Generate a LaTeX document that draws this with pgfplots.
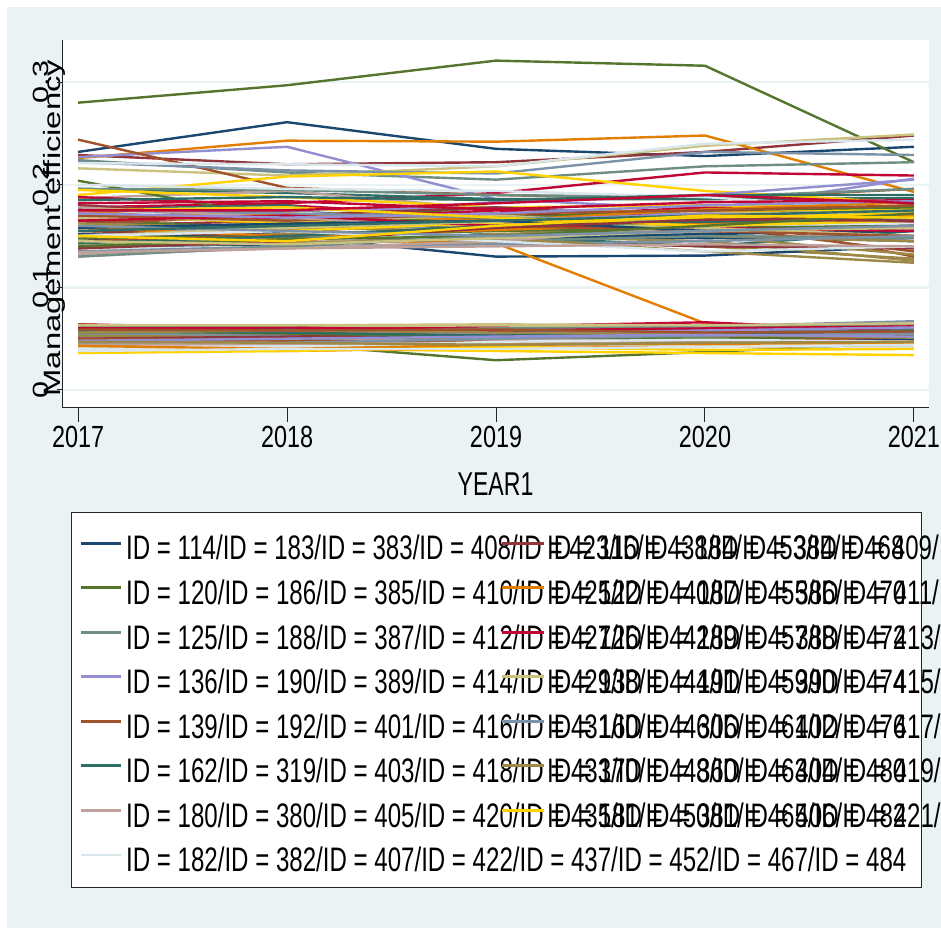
\documentclass[border=0pt]{standalone}
\usepackage{fontspec}
\usepackage{graphicx}
\usepackage{pgfplots}
\pgfplotsset{compat=1.18}
\setmainfont{Liberation Sans}
\newfontfamily\legfont[FakeStretch=0.708]{Liberation Sans}
\newfontfamily\tickfont[FakeStretch=0.765]{Liberation Sans}
\newfontfamily\titfont[FakeStretch=0.70]{Liberation Sans}
\definecolor{bg}{HTML}{EAF2F3}
\definecolor{gridc}{HTML}{EAF2F3}
\definecolor{p1}{HTML}{1A476F}
\definecolor{p2}{HTML}{90353B}
\definecolor{p3}{HTML}{55752F}
\definecolor{p4}{HTML}{E37E00}
\definecolor{p5}{HTML}{6E8E84}
\definecolor{p6}{HTML}{C10534}
\definecolor{p7}{HTML}{938DD2}
\definecolor{p8}{HTML}{CAC27E}
\definecolor{p9}{HTML}{A0522D}
\definecolor{p10}{HTML}{7B92A8}
\definecolor{p11}{HTML}{2D6D66}
\definecolor{p12}{HTML}{9C8847}
\definecolor{p13}{HTML}{BFA19C}
\definecolor{p14}{HTML}{FFD200}
\definecolor{p15}{HTML}{D9E6EB}
\newcommand\sq[1]{\scalebox{1}[0.72]{#1}}
\pgfplotsset{ser/.style={line width=2.4pt}}
\begin{document}
\begin{tikzpicture}
\path[use as bounding box] (0pt,0pt) rectangle (941pt,928pt);
\fill[white] (0pt,0pt) rectangle (941pt,928pt);
\fill[bg] (7pt,0pt) rectangle (941pt,921pt);
\filldraw[fill=white, draw=black!85, line width=1pt] (71pt,41pt) rectangle (921pt,415pt);
\begin{axis}[
  at={(62pt,520pt)}, anchor=south west,
  width=867pt, height=368pt, scale only axis,
  xmin=2016.923, xmax=2021.072, ymin=-0.01754, ymax=0.3411,
  axis x line*=bottom, axis y line*=left,
  axis line style={black!85, line width=1pt},
  axis background/.style={fill=white},
  xtick={2017,2018,2019,2020,2021},
  xticklabels={2017,2018,2019,2020,2021},
  ytick={0,0.1,0.2,0.3},
  yticklabels={{\sq{0}},{\sq{0.1}},{\sq{0.2}},{\sq{0.3}}},
  tick align=outside, major tick length=14pt,
  xtick style={black!85, line width=1pt},
  ytick style={draw=none},
  xticklabel style={font=\tickfont\fontsize{30.6}{36}\selectfont, anchor=base, yshift=-26pt},
  yticklabel style={font=\fontsize{30.6}{36}\selectfont, rotate=90, anchor=base},
  ymajorgrids, major grid style={gridc, line width=2.5pt},
  xlabel={\titfont\fontsize{33}{38}\selectfont YEAR1},
  xlabel style={at={(axis description cs:0.5,-0.2391)}, anchor=base},
  ylabel={\sq{\fontsize{32.8}{38}\selectfont Management efficiency}},
  ylabel style={at={(axis description cs:-0.0023,0.489)}, anchor=base},
  clip=false,
]
% group 1
\addplot[p1,ser] coordinates {(2017,0.232)(2018,0.261)(2019,0.235)(2020,0.228)(2021,0.237)};
\addplot[p2,ser] coordinates {(2017,0.229)(2018,0.220)(2019,0.222)(2020,0.232)(2021,0.248)};
\addplot[p3,ser] coordinates {(2017,0.280)(2018,0.297)(2019,0.321)(2020,0.316)(2021,0.222)};
\addplot[p4,ser] coordinates {(2017,0.226)(2018,0.243)(2019,0.242)(2020,0.248)(2021,0.193)};
\addplot[p5,ser] coordinates {(2017,0.224)(2018,0.212)(2019,0.205)(2020,0.218)(2021,0.222)};
\addplot[p6,ser] coordinates {(2017,0.178)(2018,0.182)(2019,0.192)(2020,0.212)(2021,0.209)};
\addplot[p7,ser] coordinates {(2017,0.227)(2018,0.237)(2019,0.186)(2020,0.176)(2021,0.206)};
\addplot[p8,ser] coordinates {(2017,0.216)(2018,0.209)(2019,0.218)(2020,0.238)(2021,0.249)};
\addplot[p9,ser] coordinates {(2017,0.244)(2018,0.197)(2019,0.190)(2020,0.186)(2021,0.196)};
\addplot[p10,ser] coordinates {(2017,0.222)(2018,0.214)(2019,0.211)(2020,0.232)(2021,0.229)};
\addplot[p11,ser] coordinates {(2017,0.196)(2018,0.192)(2019,0.186)(2020,0.186)(2021,0.187)};
\addplot[p12,ser] coordinates {(2017,0.150)(2018,0.156)(2019,0.148)(2020,0.140)(2021,0.128)};
\addplot[p13,ser] coordinates {(2017,0.187)(2018,0.194)(2019,0.176)(2020,0.170)(2021,0.165)};
\addplot[p14,ser] coordinates {(2017,0.190)(2018,0.208)(2019,0.213)(2020,0.194)(2021,0.182)};
\addplot[p15,ser] coordinates {(2017,0.221)(2018,0.220)(2019,0.218)(2020,0.240)(2021,0.244)};
% group 2
\addplot[p1,ser] coordinates {(2017,0.152)(2018,0.150)(2019,0.130)(2020,0.131)(2021,0.140)};
\addplot[p2,ser] coordinates {(2017,0.160)(2018,0.165)(2019,0.170)(2020,0.175)(2021,0.160)};
\addplot[p3,ser] coordinates {(2017,0.204)(2018,0.166)(2019,0.178)(2020,0.170)(2021,0.180)};
\addplot[p4,ser] coordinates {(2017,0.150)(2018,0.147)(2019,0.143)(2020,0.065)(2021,0.058)};
\addplot[p5,ser] coordinates {(2017,0.196)(2018,0.195)(2019,0.190)(2020,0.188)(2021,0.196)};
\addplot[p6,ser] coordinates {(2017,0.188)(2018,0.180)(2019,0.168)(2020,0.178)(2021,0.172)};
\addplot[p7,ser] coordinates {(2017,0.180)(2018,0.170)(2019,0.183)(2020,0.190)(2021,0.205)};
\addplot[p8,ser] coordinates {(2017,0.142)(2018,0.146)(2019,0.160)(2020,0.168)(2021,0.170)};
\addplot[p9,ser] coordinates {(2017,0.150)(2018,0.160)(2019,0.162)(2020,0.170)(2021,0.130)};
\addplot[p10,ser] coordinates {(2017,0.140)(2018,0.145)(2019,0.150)(2020,0.158)(2021,0.170)};
\addplot[p11,ser] coordinates {(2017,0.165)(2018,0.168)(2019,0.172)(2020,0.148)(2021,0.150)};
\addplot[p12,ser] coordinates {(2017,0.148)(2018,0.152)(2019,0.150)(2020,0.145)(2021,0.126)};
\addplot[p13,ser] coordinates {(2017,0.138)(2018,0.145)(2019,0.150)(2020,0.150)(2021,0.150)};
\addplot[p14,ser] coordinates {(2017,0.195)(2018,0.188)(2019,0.178)(2020,0.180)(2021,0.178)};
\addplot[p15,ser] coordinates {(2017,0.200)(2018,0.196)(2019,0.194)(2020,0.188)(2021,0.175)};
% group 3
\addplot[p1,ser] coordinates {(2017,0.055)(2018,0.053)(2019,0.050)(2020,0.052)(2021,0.054)};
\addplot[p2,ser] coordinates {(2017,0.058)(2018,0.056)(2019,0.054)(2020,0.058)(2021,0.055)};
\addplot[p3,ser] coordinates {(2017,0.052)(2018,0.045)(2019,0.029)(2020,0.037)(2021,0.046)};
\addplot[p4,ser] coordinates {(2017,0.045)(2018,0.044)(2019,0.046)(2020,0.047)(2021,0.050)};
\addplot[p5,ser] coordinates {(2017,0.062)(2018,0.060)(2019,0.058)(2020,0.056)(2021,0.060)};
\addplot[p6,ser] coordinates {(2017,0.064)(2018,0.060)(2019,0.062)(2020,0.066)(2021,0.057)};
\addplot[p7,ser] coordinates {(2017,0.052)(2018,0.052)(2019,0.057)(2020,0.056)(2021,0.058)};
\addplot[p8,ser] coordinates {(2017,0.060)(2018,0.062)(2019,0.063)(2020,0.060)(2021,0.062)};
\addplot[p9,ser] coordinates {(2017,0.064)(2018,0.057)(2019,0.055)(2020,0.052)(2021,0.053)};
\addplot[p10,ser] coordinates {(2017,0.054)(2018,0.054)(2019,0.058)(2020,0.062)(2021,0.067)};
\addplot[p11,ser] coordinates {(2017,0.061)(2018,0.061)(2019,0.056)(2020,0.058)(2021,0.055)};
\addplot[p12,ser] coordinates {(2017,0.053)(2018,0.051)(2019,0.050)(2020,0.048)(2021,0.049)};
\addplot[p13,ser] coordinates {(2017,0.047)(2018,0.049)(2019,0.048)(2020,0.051)(2021,0.050)};
\addplot[p14,ser] coordinates {(2017,0.038)(2018,0.040)(2019,0.038)(2020,0.036)(2021,0.034)};
\addplot[p15,ser] coordinates {(2017,0.042)(2018,0.043)(2019,0.044)(2020,0.043)(2021,0.042)};
% group 4
\addplot[p1,ser] coordinates {(2017,0.160)(2018,0.150)(2019,0.158)(2020,0.150)(2021,0.145)};
\addplot[p2,ser] coordinates {(2017,0.145)(2018,0.155)(2019,0.162)(2020,0.160)(2021,0.150)};
\addplot[p3,ser] coordinates {(2017,0.165)(2018,0.158)(2019,0.160)(2020,0.165)(2021,0.168)};
\addplot[p4,ser] coordinates {(2017,0.175)(2018,0.160)(2019,0.168)(2020,0.172)(2021,0.180)};
\addplot[p5,ser] coordinates {(2017,0.168)(2018,0.175)(2019,0.170)(2020,0.160)(2021,0.162)};
\addplot[p6,ser] coordinates {(2017,0.172)(2018,0.166)(2019,0.175)(2020,0.168)(2021,0.164)};
\addplot[p7,ser] coordinates {(2017,0.160)(2018,0.175)(2019,0.178)(2020,0.170)(2021,0.176)};
\addplot[p8,ser] coordinates {(2017,0.155)(2018,0.150)(2019,0.160)(2020,0.172)(2021,0.174)};
\addplot[p9,ser] coordinates {(2017,0.162)(2018,0.170)(2019,0.168)(2020,0.160)(2021,0.135)};
\addplot[p10,ser] coordinates {(2017,0.150)(2018,0.165)(2019,0.155)(2020,0.162)(2021,0.158)};
\addplot[p11,ser] coordinates {(2017,0.176)(2018,0.180)(2019,0.150)(2020,0.140)(2021,0.155)};
\addplot[p12,ser] coordinates {(2017,0.145)(2018,0.145)(2019,0.152)(2020,0.150)(2021,0.132)};
\addplot[p13,ser] coordinates {(2017,0.130)(2018,0.140)(2019,0.160)(2020,0.168)(2021,0.172)};
\addplot[p14,ser] coordinates {(2017,0.170)(2018,0.163)(2019,0.172)(2020,0.175)(2021,0.176)};
\addplot[p15,ser] coordinates {(2017,0.175)(2018,0.178)(2019,0.160)(2020,0.152)(2021,0.168)};
% group 5
\addplot[p1,ser] coordinates {(2017,0.145)(2018,0.155)(2019,0.150)(2020,0.148)(2021,0.150)};
\addplot[p2,ser] coordinates {(2017,0.180)(2018,0.170)(2019,0.178)(2020,0.166)(2021,0.170)};
\addplot[p3,ser] coordinates {(2017,0.158)(2018,0.162)(2019,0.168)(2020,0.175)(2021,0.178)};
\addplot[p4,ser] coordinates {(2017,0.168)(2018,0.172)(2019,0.165)(2020,0.176)(2021,0.183)};
\addplot[p5,ser] coordinates {(2017,0.150)(2018,0.158)(2019,0.165)(2020,0.160)(2021,0.155)};
\addplot[p6,ser] coordinates {(2017,0.182)(2018,0.184)(2019,0.176)(2020,0.183)(2021,0.185)};
\addplot[p7,ser] coordinates {(2017,0.150)(2018,0.160)(2019,0.165)(2020,0.172)(2021,0.168)};
\addplot[p8,ser] coordinates {(2017,0.168)(2018,0.165)(2019,0.170)(2020,0.160)(2021,0.165)};
\addplot[p9,ser] coordinates {(2017,0.170)(2018,0.165)(2019,0.172)(2020,0.175)(2021,0.180)};
\addplot[p10,ser] coordinates {(2017,0.175)(2018,0.172)(2019,0.168)(2020,0.165)(2021,0.145)};
\addplot[p11,ser] coordinates {(2017,0.185)(2018,0.188)(2019,0.185)(2020,0.190)(2021,0.190)};
\addplot[p12,ser] coordinates {(2017,0.162)(2018,0.158)(2019,0.155)(2020,0.150)(2021,0.145)};
\addplot[p13,ser] coordinates {(2017,0.178)(2018,0.168)(2019,0.158)(2020,0.154)(2021,0.158)};
\addplot[p14,ser] coordinates {(2017,0.160)(2018,0.155)(2019,0.163)(2020,0.168)(2021,0.172)};
\addplot[p15,ser] coordinates {(2017,0.135)(2018,0.145)(2019,0.155)(2020,0.160)(2021,0.162)};
% group 6
\addplot[p1,ser] coordinates {(2017,0.048)(2018,0.050)(2019,0.053)(2020,0.049)(2021,0.050)};
\addplot[p2,ser] coordinates {(2017,0.050)(2018,0.052)(2019,0.055)(2020,0.054)(2021,0.056)};
\addplot[p3,ser] coordinates {(2017,0.057)(2018,0.055)(2019,0.052)(2020,0.050)(2021,0.052)};
\addplot[p4,ser] coordinates {(2017,0.040)(2018,0.038)(2019,0.041)(2020,0.042)(2021,0.044)};
\addplot[p5,ser] coordinates {(2017,0.055)(2018,0.057)(2019,0.060)(2020,0.061)(2021,0.064)};
\addplot[p6,ser] coordinates {(2017,0.060)(2018,0.061)(2019,0.058)(2020,0.060)(2021,0.062)};
\addplot[p7,ser] coordinates {(2017,0.057)(2018,0.058)(2019,0.055)(2020,0.058)(2021,0.061)};
\addplot[p8,ser] coordinates {(2017,0.063)(2018,0.063)(2019,0.064)(2020,0.063)(2021,0.065)};
\addplot[p9,ser] coordinates {(2017,0.050)(2018,0.048)(2019,0.047)(2020,0.046)(2021,0.052)};
\addplot[p10,ser] coordinates {(2017,0.045)(2018,0.046)(2019,0.050)(2020,0.053)(2021,0.055)};
\addplot[p11,ser] coordinates {(2017,0.058)(2018,0.056)(2019,0.053)(2020,0.055)(2021,0.058)};
\addplot[p12,ser] coordinates {(2017,0.056)(2018,0.058)(2019,0.056)(2020,0.054)(2021,0.051)};
\addplot[p13,ser] coordinates {(2017,0.044)(2018,0.045)(2019,0.046)(2020,0.047)(2021,0.045)};
\addplot[p14,ser] coordinates {(2017,0.036)(2018,0.038)(2019,0.042)(2020,0.039)(2021,0.040)};
\addplot[p15,ser] coordinates {(2017,0.040)(2018,0.041)(2019,0.047)(2020,0.049)(2021,0.047)};
% group 7
\addplot[p1,ser] coordinates {(2017,0.140)(2018,0.142)(2019,0.148)(2020,0.152)(2021,0.155)};
\addplot[p2,ser] coordinates {(2017,0.155)(2018,0.150)(2019,0.145)(2020,0.140)(2021,0.138)};
\addplot[p3,ser] coordinates {(2017,0.148)(2018,0.150)(2019,0.155)(2020,0.158)(2021,0.160)};
\addplot[p4,ser] coordinates {(2017,0.158)(2018,0.150)(2019,0.156)(2020,0.162)(2021,0.170)};
\addplot[p5,ser] coordinates {(2017,0.138)(2018,0.150)(2019,0.145)(2020,0.150)(2021,0.148)};
\addplot[p6,ser] coordinates {(2017,0.165)(2018,0.170)(2019,0.160)(2020,0.158)(2021,0.155)};
\addplot[p7,ser] coordinates {(2017,0.172)(2018,0.168)(2019,0.172)(2020,0.180)(2021,0.184)};
\addplot[p8,ser] coordinates {(2017,0.150)(2018,0.158)(2019,0.164)(2020,0.158)(2021,0.150)};
\addplot[p9,ser] coordinates {(2017,0.145)(2018,0.150)(2019,0.160)(2020,0.155)(2021,0.150)};
\addplot[p10,ser] coordinates {(2017,0.135)(2018,0.140)(2019,0.142)(2020,0.145)(2021,0.150)};
\addplot[p11,ser] coordinates {(2017,0.143)(2018,0.150)(2019,0.160)(2020,0.164)(2021,0.166)};
\addplot[p12,ser] coordinates {(2017,0.140)(2018,0.143)(2019,0.148)(2020,0.135)(2021,0.124)};
\addplot[p13,ser] coordinates {(2017,0.132)(2018,0.138)(2019,0.145)(2020,0.160)(2021,0.165)};
\addplot[p14,ser] coordinates {(2017,0.175)(2018,0.178)(2019,0.168)(2020,0.160)(2021,0.165)};
\addplot[p15,ser] coordinates {(2017,0.150)(2018,0.155)(2019,0.145)(2020,0.135)(2021,0.140)};
% group 8
\addplot[p1,ser] coordinates {(2017,0.158)(2018,0.162)(2019,0.165)(2020,0.155)(2021,0.160)};
\addplot[p2,ser] coordinates {(2017,0.138)(2018,0.145)(2019,0.158)(2020,0.166)(2021,0.165)};
\addplot[p3,ser] coordinates {(2017,0.140)(2018,0.147)(2019,0.150)(2020,0.160)(2021,0.172)};
\addplot[p4,ser] coordinates {(2017,0.043)(2018,0.040)(2019,0.044)(2020,0.045)(2021,0.046)};
\addplot[p5,ser] coordinates {(2017,0.130)(2018,0.140)(2019,0.150)(2020,0.155)(2021,0.160)};
\addplot[p6,ser] coordinates {(2017,0.175)(2018,0.175)(2019,0.182)(2020,0.190)(2021,0.182)};
\addplot[p7,ser] coordinates {(2017,0.048)(2018,0.050)(2019,0.052)(2020,0.054)(2021,0.052)};
\addplot[p8,ser] coordinates {(2017,0.145)(2018,0.142)(2019,0.148)(2020,0.155)(2021,0.158)};
\addplot[p9,ser] coordinates {(2017,0.059)(2018,0.058)(2019,0.059)(2020,0.056)(2021,0.057)};
\addplot[p10,ser] coordinates {(2017,0.160)(2018,0.155)(2019,0.150)(2020,0.155)(2021,0.160)};
\addplot[p11,ser] coordinates {(2017,0.155)(2018,0.160)(2019,0.165)(2020,0.170)(2021,0.175)};
\addplot[p12,ser] coordinates {(2017,0.047)(2018,0.046)(2019,0.044)(2020,0.046)(2021,0.047)};
\addplot[p13,ser] coordinates {(2017,0.134)(2018,0.138)(2019,0.140)(2020,0.142)(2021,0.140)};
\addplot[p14,ser] coordinates {(2017,0.150)(2018,0.145)(2019,0.160)(2020,0.170)(2021,0.168)};
\addplot[p15,ser] coordinates {(2017,0.038)(2018,0.040)(2019,0.040)(2020,0.042)(2021,0.044)};
\end{axis}
% y tick marks
\begin{scope}[black!85, line width=1pt]
\draw (57pt,538pt) -- (62pt,538pt);
\draw (57pt,640.6pt) -- (62pt,640.6pt);
\draw (57pt,743.2pt) -- (62pt,743.2pt);
\draw (57pt,845.8pt) -- (62pt,845.8pt);
\end{scope}
% legend
\begin{scope}[line width=2.8pt]
\draw[p1]  (81pt,384.7pt) -- (121pt,384.7pt);
\draw[p3]  (81pt,340.2pt) -- (121pt,340.2pt);
\draw[p5]  (81pt,295.6pt) -- (121pt,295.6pt);
\draw[p7]  (81pt,251.1pt) -- (121pt,251.1pt);
\draw[p9]  (81pt,206.6pt) -- (121pt,206.6pt);
\draw[p11] (81pt,162.1pt) -- (121pt,162.1pt);
\draw[p13] (81pt,117.5pt) -- (121pt,117.5pt);
\draw[p15] (81pt,73.0pt) -- (121pt,73.0pt);
\end{scope}
\begin{scope}[every node/.style={anchor=base west, inner sep=0pt, font=\legfont\fontsize{34}{40}\selectfont}]
\node at (126pt,368.00pt) {ID = 114/ID = 183/ID = 383/ID = 408/ID = 423/ID = 438/ID = 453/ID = 468};
\node at (126pt,323.47pt) {ID = 120/ID = 186/ID = 385/ID = 410/ID = 425/ID = 440/ID = 455/ID = 470};
\node at (126pt,278.94pt) {ID = 125/ID = 188/ID = 387/ID = 412/ID = 427/ID = 442/ID = 457/ID = 472};
\node at (126pt,234.41pt) {ID = 136/ID = 190/ID = 389/ID = 414/ID = 429/ID = 444/ID = 459/ID = 474};
\node at (126pt,189.88pt) {ID = 139/ID = 192/ID = 401/ID = 416/ID = 431/ID = 446/ID = 461/ID = 476};
\node at (126pt,145.35pt) {ID = 162/ID = 319/ID = 403/ID = 418/ID = 433/ID = 448/ID = 463/ID = 480};
\node at (126pt,100.82pt) {ID = 180/ID = 380/ID = 405/ID = 420/ID = 435/ID = 450/ID = 465/ID = 482};
\node at (126pt,56.29pt) {ID = 182/ID = 382/ID = 407/ID = 422/ID = 437/ID = 452/ID = 467/ID = 484};
\end{scope}
\begin{scope}[line width=2.8pt]
\draw[p2]  (502pt,384.7pt) -- (544pt,384.7pt);
\draw[p4]  (502pt,340.2pt) -- (544pt,340.2pt);
\draw[p6]  (502pt,295.6pt) -- (544pt,295.6pt);
\draw[p8]  (502pt,251.1pt) -- (544pt,251.1pt);
\draw[p10] (502pt,206.6pt) -- (544pt,206.6pt);
\draw[p12] (502pt,162.1pt) -- (544pt,162.1pt);
\draw[p14] (502pt,117.5pt) -- (544pt,117.5pt);
\end{scope}
\begin{scope}[every node/.style={anchor=base west, inner sep=0pt, font=\legfont\fontsize{34}{40}\selectfont}]
\node at (547pt,368.00pt) {ID = 116/ID = 184/ID = 384/ID = 409/ID = 424/ID = 439/ID = 454/ID = 469};
\node at (547pt,323.47pt) {ID = 122/ID = 187/ID = 386/ID = 411/ID = 426/ID = 441/ID = 456/ID = 471};
\node at (547pt,278.94pt) {ID = 126/ID = 189/ID = 388/ID = 413/ID = 428/ID = 443/ID = 458/ID = 473};
\node at (547pt,234.41pt) {ID = 138/ID = 191/ID = 390/ID = 415/ID = 430/ID = 445/ID = 460/ID = 475};
\node at (547pt,189.88pt) {ID = 160/ID = 306/ID = 402/ID = 417/ID = 432/ID = 447/ID = 462/ID = 477};
\node at (547pt,145.35pt) {ID = 170/ID = 360/ID = 404/ID = 419/ID = 434/ID = 449/ID = 464/ID = 481};
\node at (547pt,100.82pt) {ID = 181/ID = 381/ID = 406/ID = 421/ID = 436/ID = 451/ID = 466/ID = 483};
\end{scope}
\end{tikzpicture}
\end{document}
